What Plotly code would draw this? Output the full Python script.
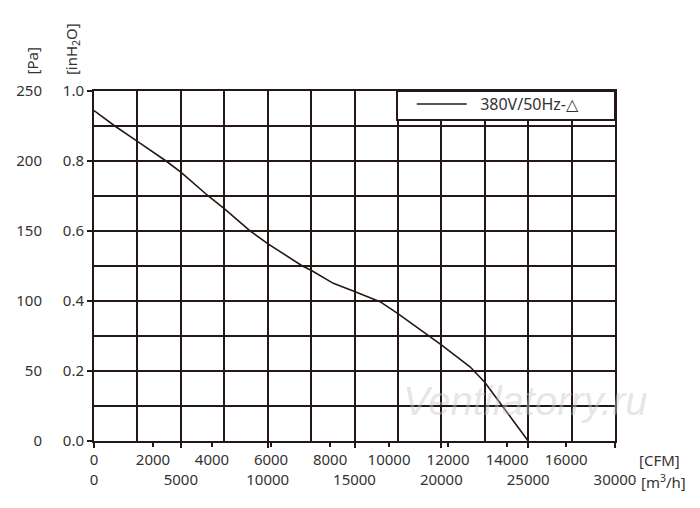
import plotly.graph_objects as go

# fan curve: airflow in m3/h, static pressure in Pa
flow_m3h = [0, 1200, 2500, 4150, 5000, 6580, 7500, 9000, 10000, 12000, 12500,
            13780, 15000, 16470, 17500, 20000, 21650, 22500, 25000]
press_pa = [236, 225, 214, 200, 192, 175, 166, 150, 141, 125, 122,
            112.6, 106.7, 99.5, 91, 68.6, 53, 42, 0]

series_name = "380V/50Hz-△"
m3h_ticks = [0, 5000, 10000, 15000, 20000, 25000, 30000]
cfm_ticks = [0, 2000, 4000, 6000, 8000, 10000, 12000, 14000, 16000]
pa_ticks = [0, 50, 100, 150, 200, 250]
inh2o_ticks = [0.0, 0.2, 0.4, 0.6, 0.8, 1.0]

M3H_PER_CFM = 1.699
ink = "#231815"
txt = "#333333"
fnt = dict(family="Noto Sans", size=15, color=txt)

fig = go.Figure()
fig.add_trace(go.Scatter(x=flow_m3h, y=press_pa, mode="lines",
                         name="\u00a0\u00a0" + series_name,
                         line=dict(color=ink, width=1.6)))
# invisible trace to bring the secondary axes to life
fig.add_trace(go.Scatter(x=[0], y=[0], xaxis="x2", yaxis="y2", mode="markers",
                         marker=dict(opacity=0), showlegend=False, hoverinfo="skip"))

# the page body has an 8px margin, so the figure is a bit smaller than the window
fig.update_layout(
    width=684, height=492,
    margin=dict(l=86, r=77, t=83, b=59),
    paper_bgcolor="white", plot_bgcolor="white",
    font=fnt,
    showlegend=True,
    legend=dict(x=0.61, y=1.011, xanchor="left", yanchor="top",
                bgcolor="rgba(0,0,0,0)", borderwidth=0,
                font=dict(family="Noto Sans", size=16, color=txt), itemwidth=50),
    xaxis=dict(range=[0, 30000], tickvals=m3h_ticks, tickformat="d", showgrid=True,
               gridcolor=ink, gridwidth=2,
               minor=dict(dtick=2500, tick0=0, showgrid=True, gridcolor=ink, gridwidth=2),
               ticks="outside", ticklen=5, tickcolor=ink, tickwidth=1.5,
               ticklabelstandoff=19, zeroline=False, automargin=False,
               showline=True, linecolor=ink, linewidth=2, mirror=True),
    xaxis2=dict(range=[0, 30000 / M3H_PER_CFM], overlaying="x", side="bottom",
                anchor="y", tickvals=cfm_ticks, tickformat="d", showgrid=False,
                zeroline=False, automargin=False,
                ticks="outside", ticklen=5, tickcolor=ink, tickwidth=1.5),
    yaxis=dict(range=[0, 250], tickvals=pa_ticks, showgrid=True,
               gridcolor=ink, gridwidth=2,
               minor=dict(dtick=25, tick0=0, showgrid=True, gridcolor=ink, gridwidth=2),
               ticks="", ticklabelstandoff=47, zeroline=False, automargin=False,
               showline=True, linecolor=ink, linewidth=2, mirror=True),
    yaxis2=dict(range=[0, 1], overlaying="y", side="left", anchor="x",
                tickvals=inh2o_ticks, tickformat=".1f", showgrid=False,
                zeroline=False, automargin=False,
                ticks="outside", ticklen=6, tickcolor=ink, tickwidth=1.5),
)

# legend frame
fig.add_shape(type="rect", xref="paper", yref="paper", x0=0.5816, x1=1.0,
              y0=(441 - 120) / 350, y1=1.0, fillcolor="white",
              line=dict(color=ink, width=2), layer="above")

# unit labels
fig.add_annotation(text="[Pa]", xref="paper", yref="paper", x=-0.119, y=1.04,
                   xanchor="center", yanchor="bottom",
                   textangle=-90, showarrow=False, font=fnt)
fig.add_annotation(text="[inH<sub>2</sub>O]", xref="paper", yref="paper", x=-0.042, y=1.04,
                   xanchor="center", yanchor="bottom",
                   textangle=-90, showarrow=False, font=fnt)
fig.add_annotation(text="[CFM]", xref="paper", yref="paper", x=1.086, y=-0.054,
                   xanchor="center", yanchor="middle", showarrow=False, font=fnt)
fig.add_annotation(text="[m<sup>3</sup>/h]", xref="paper", yref="paper", x=1.046, y=-0.117,
                   xanchor="left", yanchor="middle", showarrow=False, font=fnt)
# watermark
fig.add_annotation(text="Ventilatorry.ru", xref="paper", yref="paper", x=0.829, y=0.114,
                   xanchor="center", yanchor="middle", showarrow=False,
                   font=dict(family="Liberation Sans", size=40,
                             color="rgba(200,200,200,0.45)", style="italic"))

fig.write_html("out.html")
